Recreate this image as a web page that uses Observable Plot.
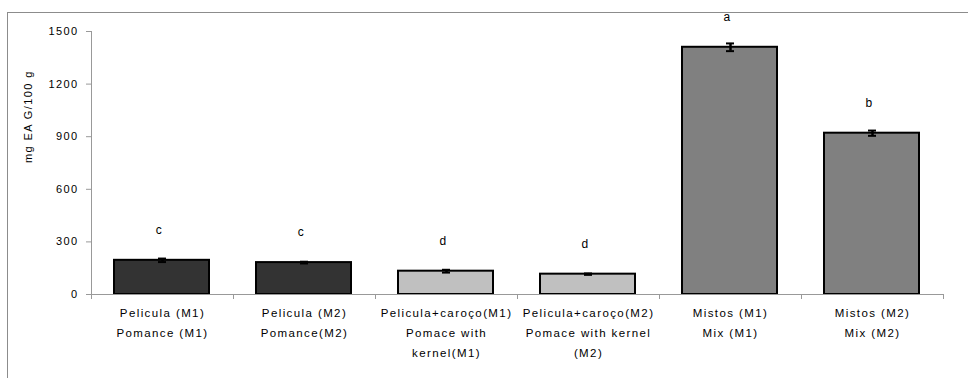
<!DOCTYPE html>
<html>
<head>
<meta charset="utf-8">
<script src="https://cdn.jsdelivr.net/npm/d3@7"></script>
<script src="https://cdn.jsdelivr.net/npm/@observablehq/plot@0.6"></script>
<style>
  html, body { margin: 0; padding: 0; background: #fff; overflow: hidden; }
  #wrap { position: relative; width: 968px; height: 378px; }
  #frame { position: absolute; left: 7px; top: 12px; width: 1100px; height: 600px; border: 1px solid #8c8c8c; box-sizing: border-box; pointer-events: none; }
  svg { font-family: "Liberation Sans", Arial, sans-serif; }
  svg text { letter-spacing: 1.4px; }
</style>
</head>
<body>
<div id="wrap"><div id="frame"></div></div>
<script>
const categories = [
  "Pelicula (M1)\nPomance (M1)",
  "Pelicula (M2)\nPomance(M2)",
  "Pelicula+caroço(M1)\nPomace with\nkernel(M1)",
  "Pelicula+caroço(M2)\nPomace with kernel\n(M2)",
  "Mistos (M1)\nMix (M1)",
  "Mistos (M2)\nMix (M2)"
];
const values = [195, 182, 133, 116, 1410, 920];
const errors = [10, 5, 8, 4, 22, 15];
const letters = ["c", "c", "d", "d", "a", "b"];
const fills = ["#333333", "#333333", "#c0c0c0", "#c0c0c0", "#808080", "#808080"];
const yTicks = [0, 300, 600, 900, 1200, 1500];

const data = categories.map((c, i) => ({
  i, label: c, value: values[i], err: errors[i], letter: letters[i], fill: fills[i]
}));

const chart = Plot.plot({
  width: 968,
  height: 378,
  marginLeft: 91,
  marginRight: 25,
  marginTop: 31,
  marginBottom: 84,
  style: { fontFamily: "'Liberation Sans', Arial, sans-serif", fontSize: "11px", color: "#000", background: "transparent" },
  x: { type: "linear", domain: [0, categories.length], axis: null },
  y: { domain: [0, 1500], axis: null },
  marks: [
    Plot.ruleX([0], { stroke: "#999", strokeWidth: 1 }),
    Plot.axisY({ ticks: yTicks, tickFormat: d3.format("d"), tickSize: 5, tickPadding: 8, stroke: "#999", fill: "#000", fontSize: 11, label: null }),
    Plot.text(["mg EA G/100 g"], { frameAnchor: "left", rotate: -90, dx: -63, fontSize: 11, fill: "#000" }),
    Plot.rect(data, {
      x1: d => d.i, x2: d => d.i + 1, y1: 0, y2: "value",
      insetLeft: 23, insetRight: 24,
      fill: "fill", stroke: "#000", strokeWidth: 2
    }),
    Plot.ruleY([0], { stroke: "#999", strokeWidth: 1 }),
    Plot.axisX({ ticks: d3.range(categories.length + 1), tickFormat: () => "", tickSize: 5, stroke: "#999" }),
    Plot.ruleX(data, { x: d => d.i + 0.5, y1: d => d.value - d.err, y2: d => d.value + d.err, stroke: "#000", strokeWidth: 2.5 }),
    Plot.ruleY(data, { x1: d => d.i, x2: d => d.i + 1, y: d => d.value - d.err, insetLeft: 67, insetRight: 67, stroke: "#000", strokeWidth: 2 }),
    Plot.ruleY(data, { x1: d => d.i, x2: d => d.i + 1, y: d => d.value + d.err, insetLeft: 67, insetRight: 67, stroke: "#000", strokeWidth: 2 }),
    Plot.text(data, { x: d => d.i + 0.5, y: "value", text: "letter", dy: -30, dx: -3, fontSize: 12, fill: "#000" }),
    Plot.text(data, { x: d => d.i + 0.5, y: 0, text: "label", dy: 8, lineAnchor: "top", lineHeight: 1.75, fontSize: 11.5, fill: "#000", textAnchor: "middle" })
  ]
});
document.getElementById("wrap").prepend(chart);
</script>
</body>
</html>
